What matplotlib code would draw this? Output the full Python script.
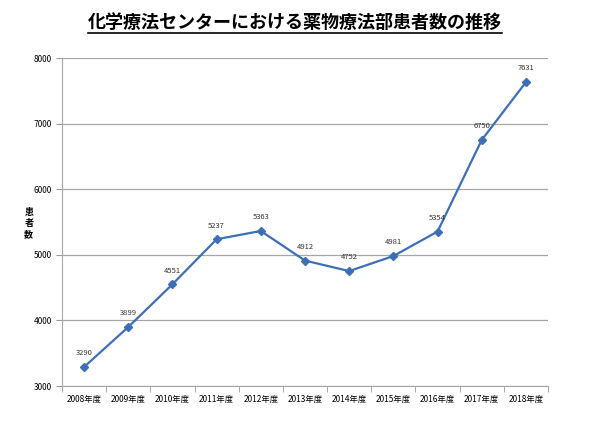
import matplotlib
matplotlib.use('Agg')
import matplotlib.pyplot as plt

plt.rcParams['font.family'] = ['Noto Sans CJK JP', 'DejaVu Sans']

years = ['2008年度', '2009年度', '2010年度', '2011年度', '2012年度', '2013年度',
         '2014年度', '2015年度', '2016年度', '2017年度', '2018年度']
patients = [3290, 3899, 4551, 5237, 5363, 4912, 4752, 4981, 5354, 6750, 7631]

fig = plt.figure(figsize=(6, 4.29), dpi=100)
ax = fig.add_axes([0.1033, 0.1002, 0.81, 0.7646])

x = list(range(len(years)))
ax.plot(x, patients, color='#3d6fb6', lw=1.6, marker='D', ms=4.5, zorder=3)
for xi, v in zip(x, patients):
    ax.annotate(str(v), (xi, v), xytext=(0, 7), textcoords='offset points',
                ha='center', va='bottom', fontsize=5.5, color='#333333')

ax.set_xlim(-0.5, len(years) - 0.5)
ax.set_ylim(3000, 8000)
ax.set_yticks([3000, 4000, 5000, 6000, 7000, 8000])
ax.set_xticks(x)
ax.set_xticklabels(years)
ax.set_xticks([i + 0.5 for i in range(-1, len(years))], minor=True)
ax.tick_params(axis='x', which='major', length=0, labelsize=6, pad=6)
ax.tick_params(axis='x', which='minor', length=4, color='#999999')
ax.tick_params(axis='y', length=4, color='#999999', labelsize=6)
ax.yaxis.grid(True, color='#a6a6a6', lw=0.9)
ax.set_axisbelow(True)
for s in ['top', 'right']:
    ax.spines[s].set_visible(False)
for s in ['left', 'bottom']:
    ax.spines[s].set_color('#a6a6a6')

fig.text(0.048, 0.478, '患\n者\n数', fontsize=6.5, fontweight='bold',
         ha='center', va='center', linespacing=1.3)

t = fig.text(0.492, 0.947, '化学療法センターにおける薬物療法部患者数の推移',
             fontsize=13, fontweight='bold', ha='center', va='center')
# underline under the title
fig.canvas.draw()
bb = t.get_window_extent()
fig.add_artist(plt.Line2D([bb.x0 / 600, bb.x1 / 600], [(bb.y0 - 1) / 429] * 2,
                          color='black', lw=1.2))

fig.savefig('out.png', dpi=100)
